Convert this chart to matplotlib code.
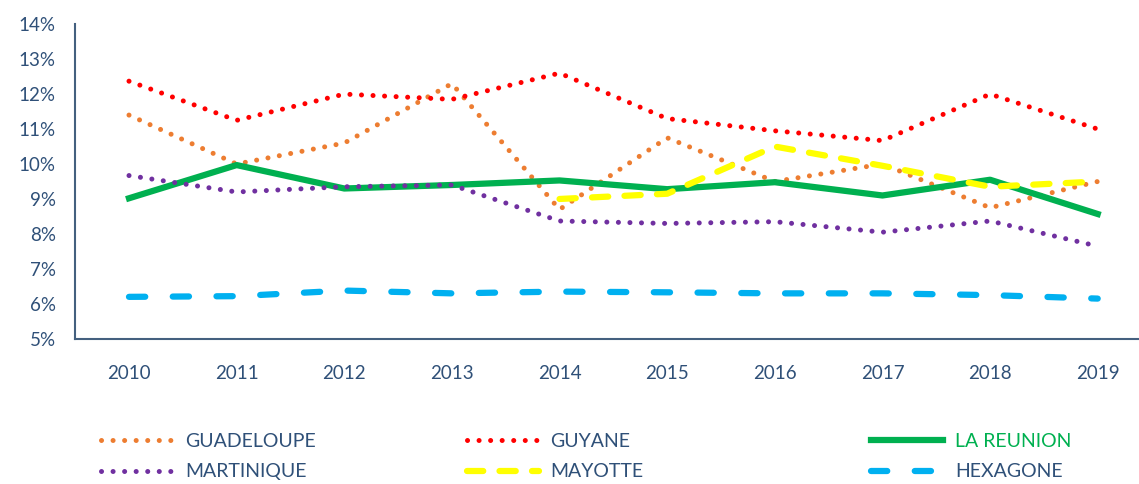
import matplotlib.pyplot as plt
from matplotlib.ticker import FuncFormatter

years = ['2010', '2011', '2012', '2013', '2014', '2015', '2016', '2017', '2018', '2019']
guadeloupe = [11.4, 10.0, 10.6, 12.3, 8.7, 10.75, 9.5, 10.0, 8.75, 9.5]
guyane = [12.37, 11.25, 12.0, 11.85, 12.6, 11.3, 10.95, 10.67, 12.0, 11.0]
reunion = [9.02, 9.97, 9.3, 9.4, 9.53, 9.28, 9.48, 9.1, 9.55, 8.57]
martinique = [9.67, 9.2, 9.35, 9.4, 8.37, 8.3, 8.35, 8.05, 8.37, 7.65]
mayotte = [None, None, None, None, 9.0, 9.15, 10.5, 9.95, 9.35, 9.5]
hexagone = [6.2, 6.22, 6.38, 6.3, 6.35, 6.33, 6.3, 6.3, 6.25, 6.15]

txt = '#2f5078'
plt.rcParams['font.family'] = ['Lato', 'DejaVu Sans']

fig = plt.figure(figsize=(11.39, 4.84), dpi=100)
ax = fig.add_axes([0.066, 0.30, 0.945, 0.65])

x = range(len(years))
dots = (0, (0.01, 2.3))
ax.plot(x, guadeloupe, color='#ED7D31', lw=3.6, ls=dots, dash_capstyle='round', label='GUADELOUPE')
ax.plot(x, guyane, color='#FF0000', lw=3.6, ls=dots, dash_capstyle='round', label='GUYANE')
ax.plot(x, reunion, color='#00B050', lw=4.5, label='LA REUNION')
ax.plot(x, martinique, color='#7030A0', lw=3.6, ls=dots, dash_capstyle='round', label='MARTINIQUE')
ax.plot(x, [v if v is not None else float('nan') for v in mayotte], color='#FFFF00', lw=4.5,
        ls=(0, (2.6, 2.6)), dash_capstyle='round', label='MAYOTTE')
ax.plot(x, hexagone, color='#00B0F0', lw=4.5, ls=(0, (2.6, 4.4)), dash_capstyle='round', label='HEXAGONE')

ax.set_xlim(-0.5, 9.5)
ax.set_ylim(5, 14)
ax.set_yticks(range(5, 15))
ax.yaxis.set_major_formatter(FuncFormatter(lambda v, p: f'{int(v)}%'))
ax.set_xticks(list(x))
ax.set_xticklabels(years)
ax.tick_params(length=0, labelsize=13.5, colors=txt)
ax.tick_params(axis='x', pad=19)
ax.tick_params(axis='y', pad=14)
for s in ['top', 'right']:
    ax.spines[s].set_visible(False)
for s in ['left', 'bottom']:
    ax.spines[s].set_color('#44607f')
    ax.spines[s].set_linewidth(1.5)

# legend: three separate columns, two rows each
lines = ax.get_lines()
cols = [(lines[0], lines[3]), (lines[1], lines[4]), (lines[2], lines[5])]
xpos = [0.082, 0.403, 0.758]
for (a, b), xp in zip(cols, xpos):
    leg = fig.legend([a, b], [a.get_label(), b.get_label()], loc='upper left',
                     bbox_to_anchor=(xp, 0.122), frameon=False, fontsize=14,
                     handlelength=3.7, handletextpad=0.6, labelspacing=0.7,
                     borderaxespad=0)
    for t in leg.get_texts():
        t.set_color('#00B050' if t.get_text() == 'LA REUNION' else txt)

fig.savefig('out.png', dpi=100)
